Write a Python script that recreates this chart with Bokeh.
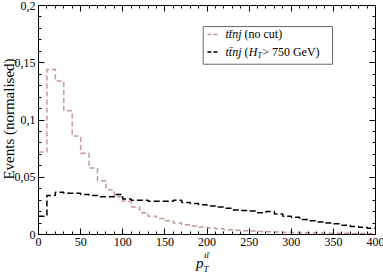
import math
from bokeh.plotting import figure
from bokeh.models import Label, LinearAxis, SingleIntervalTicker, CustomJSTickFormatter, Range1d, Div
from bokeh.layouts import row
from bokeh.embed import file_html
from bokeh.resources import INLINE

# bin left edges (GeV), width 10
bin_edges = list(range(0, 410, 10))

# ttnj (no cut)
nocut = [0.072, 0.144, 0.134, 0.108, 0.086, 0.071, 0.058, 0.047, 0.039, 0.033,
         0.029, 0.024, 0.019, 0.016, 0.014, 0.012, 0.010, 0.0085, 0.0075, 0.0065,
         0.0057, 0.005, 0.0042, 0.0037, 0.0033, 0.003, 0.0027, 0.0024, 0.0022, 0.002,
         0.0018, 0.0016, 0.0015, 0.0013, 0.0012, 0.0011, 0.001, 0.0009, 0.0008, 0.0007]

# ttnj (HT > 750 GeV)
htcut = [0.016, 0.034, 0.037, 0.036, 0.036, 0.035, 0.034, 0.033, 0.033, 0.035,
         0.031, 0.030, 0.030, 0.029, 0.029, 0.029, 0.030, 0.028, 0.027, 0.026,
         0.025, 0.024, 0.023, 0.0215, 0.021, 0.0205, 0.019, 0.020, 0.018, 0.016,
         0.015, 0.013, 0.012, 0.011, 0.010, 0.0093, 0.008, 0.007, 0.0063, 0.0055]

x_ticks_interval = 50
y_ticks_interval = 0.05

FONT = "'Liberation Serif', 'Times New Roman', serif"
RED = "#c99595"

W_Y = 6
p = figure(width=383 - W_Y, height=278, x_range=Range1d(0, 400), y_range=Range1d(0, 0.2),
           output_backend="svg", toolbar_location=None,
           min_border_left=30, min_border_right=10, min_border_top=13, min_border_bottom=36)
p.grid.visible = False
p.outline_line_color = "black"
p.background_fill_color = "white"
p.border_fill_color = None

fmt = CustomJSTickFormatter(code="return (Math.round(tick*1000)/1000).toString().replace('.', ',');")
blank = CustomJSTickFormatter(code="return '';")

def style_axis(ax, show_labels):
    ax.major_tick_in = 6
    ax.major_tick_out = 0
    ax.minor_tick_in = 3
    ax.minor_tick_out = 0
    ax.axis_line_color = "black"
    ax.major_tick_line_color = "black"
    ax.minor_tick_line_color = "black"
    ax.major_label_text_font = FONT
    ax.major_label_text_color = "black"
    ax.axis_label_standoff = 0
    if show_labels:
        ax.major_label_text_font_size = "12px"
        ax.major_label_standoff = 3
    else:
        ax.formatter = blank
        ax.major_label_text_font_size = "0px"
        ax.major_label_standoff = 0

xt = SingleIntervalTicker(interval=x_ticks_interval, num_minor_ticks=5)
yt = SingleIntervalTicker(interval=y_ticks_interval, num_minor_ticks=5)

p.xaxis.ticker = xt
p.yaxis.ticker = yt
p.xaxis.formatter = fmt
p.yaxis.formatter = fmt
style_axis(p.xaxis[0], True)
style_axis(p.yaxis[0], True)

top = LinearAxis(ticker=SingleIntervalTicker(interval=x_ticks_interval, num_minor_ticks=5))
right = LinearAxis(ticker=SingleIntervalTicker(interval=y_ticks_interval, num_minor_ticks=5))
style_axis(top, False)
style_axis(right, False)
p.add_layout(top, "above")
p.add_layout(right, "right")

xs = bin_edges
p.step(x=xs, y=nocut + [nocut[-1]], mode="after", line_color=RED, line_width=1.5, line_dash="5 3")
p.step(x=xs, y=htcut + [htcut[-1]], mode="after", line_color="black", line_width=1.5, line_dash="6 3")

# legend box
p.quad(left=[195.5], right=[349], bottom=[0.1487], top=[0.1816], fill_color="white",
       line_color="#666666", line_width=1)
p.line(x=[200.5, 214.5], y=[0.1747, 0.1747], line_color=RED, line_width=1.5, line_dash="4 2")
p.line(x=[200.5, 214.5], y=[0.1594, 0.1594], line_color="black", line_width=1.5, line_dash="4 2")

def lab(x, y, text, size="12px", style="normal", baseline="middle", align="left"):
    p.add_layout(Label(x=x, y=y, text=text, text_font=FONT, text_font_size=size,
                       text_font_style=style, text_baseline=baseline, text_align=align,
                       text_color="black"))

lab(222, 0.1747, "tt\u0304nj", style="italic")
lab(244.5, 0.1747, "(no cut)")
lab(222, 0.1594, "tt\u0304nj", style="italic")
lab(244.5, 0.1594, "(")
lab(249.5, 0.1594, "H", style="italic")
lab(260, 0.1559, "T", size="8px", style="italic")
lab(265.5, 0.1594, " > 750 GeV)")

CSSF = "font-family:'Liberation Serif','Times New Roman',serif;line-height:1;white-space:nowrap;color:black;"

# axis titles (HTML text placed over the page, relative to the top-left corner)
titles = Div(width=W_Y, height=278, text=(
    "<div style='position:relative;width:6px;height:278px;overflow:visible'>"
    "<div style=\"position:absolute;left:12px;top:122px;transform:translate(-50%,-50%) rotate(-90deg);"
    + CSSF + "font-size:15px\">Events (normalised)</div>"
    "<span style=\"position:absolute;left:199px;top:258.5px;" + CSSF + "font-size:15px;font-style:italic\">p</span>"
    "<span style=\"position:absolute;left:206.5px;top:268px;" + CSSF + "font-size:9px;font-style:italic\">T</span>"
    "<span style=\"position:absolute;left:207px;top:254px;" + CSSF + "font-size:9px;font-style:italic\">tt\u0304</span>"
    "</div>"))

layout = row(titles, p, spacing=0, styles={"margin-left": "-8px", "margin-top": "-8px"})

open("out.html", "w").write(file_html(layout, INLINE))
